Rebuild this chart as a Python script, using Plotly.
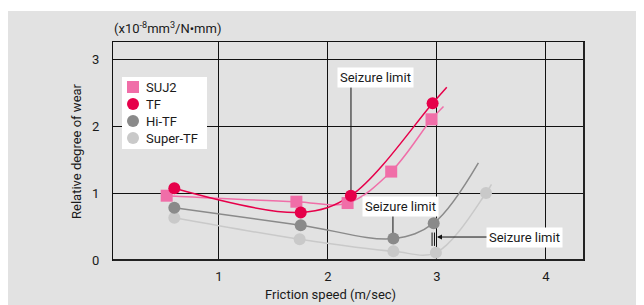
import plotly.graph_objects as go

# ---- data ----
suj2_x = [0.52, 1.71, 2.18, 2.58, 2.95]
suj2_y = [0.96, 0.87, 0.85, 1.32, 2.10]
suj2_tail_x = [3.06]
suj2_tail_y = [2.29]

tf_x = [0.59, 1.75, 2.21, 2.96]
tf_y = [1.07, 0.71, 0.96, 2.34]
tf_tail_x = [3.09]
tf_tail_y = [2.58]

hitf_x = [0.59, 1.75, 2.60, 2.97]
hitf_y = [0.78, 0.52, 0.32, 0.55]
hitf_tail_x = [3.38]
hitf_tail_y = [1.45]

stf_x = [0.59, 1.74, 2.60, 2.99, 3.45]
stf_y = [0.63, 0.31, 0.13, 0.11, 1.00]
stf_tail_x = [3.50]
stf_tail_y = [1.13]

series_names = ["SUJ2", "TF", "Hi-TF", "Super-TF"]
x_ticks = [1, 2, 3, 4]
y_ticks = [0, 1, 2, 3]

FONT = "Roboto, sans-serif"
BG = "#e2e2e2"
TXT = "#1a1a1a"

colors = ["#f06ea8", "#e6004a", "#8a8a8a", "#c9c9c9"]
symbols = ["square", "circle", "circle", "circle"]
data = [
    (suj2_x, suj2_y, suj2_tail_x, suj2_tail_y),
    (tf_x, tf_y, tf_tail_x, tf_tail_y),
    (hitf_x, hitf_y, hitf_tail_x, hitf_tail_y),
    (stf_x, stf_y, stf_tail_x, stf_tail_y),
]

# plot area geometry in px (figure coords)
W, H = 636, 297
L, R, T, B = 105, 60, 34, 45
PW, PH = W - L - R, H - T - B
XR = [0.0275, 4.349]
YR = [0, 3.254]


def px2x(px):
    return XR[0] + px * (XR[1] - XR[0]) / PW


def py2y(py):
    return YR[1] - py * (YR[1] - YR[0]) / PH


fig = go.Figure()
order = [3, 2, 0, 1]
for i in order:
    xs, ys, tx, ty = data[i]
    fig.add_trace(go.Scatter(
        x=xs + tx, y=ys + ty, mode="lines",
        line=dict(color=colors[i], width=1.5, shape="spline", smoothing=1.0),
        showlegend=False, hoverinfo="skip"))
for i in order:
    xs, ys, tx, ty = data[i]
    fig.add_trace(go.Scatter(
        x=xs, y=ys, mode="markers", name=series_names[i],
        marker=dict(color=colors[i], size=12, symbol=symbols[i], line=dict(width=0)),
        showlegend=False))

# custom legend on a pixel overlay axis (x right, y down, relative to plot area)
leg_sym_x = 20
leg_txt_x = 31
leg_rows = [45, 62, 79, 96]
fig.add_trace(go.Scatter(
    x=[leg_sym_x] * 4, y=leg_rows, xaxis="x2", yaxis="y2", mode="markers",
    marker=dict(color=colors, size=12, symbol=symbols, line=dict(width=0)),
    showlegend=False, hoverinfo="skip"))
for name, yy in zip(series_names, leg_rows):
    fig.add_annotation(x=leg_txt_x, y=yy, xref="x2", yref="y2", text=name,
                       showarrow=False, xanchor="left", yanchor="middle",
                       font=dict(size=13, color=TXT))

fig.update_layout(
    width=W, height=H,
    margin=dict(l=L, r=R, t=T, b=B),
    paper_bgcolor=BG, plot_bgcolor=BG,
    font=dict(family=FONT, size=13, color=TXT),
    showlegend=False,
    xaxis=dict(range=XR, tickvals=x_ticks, showgrid=True,
               gridcolor="#111111", gridwidth=1, zeroline=False,
               showline=True, linecolor="#111111", linewidth=1, mirror=True,
               ticks="", ticklabelstandoff=4, tickfont=dict(size=13)),
    yaxis=dict(range=YR, tickvals=y_ticks, showgrid=True,
               gridcolor="#111111", gridwidth=1, zeroline=False,
               showline=True, linecolor="#111111", linewidth=1, mirror=True,
               ticks="", ticklabelstandoff=10, tickfont=dict(size=13)),
    xaxis2=dict(overlaying="x", range=[0, PW], visible=False, fixedrange=True),
    yaxis2=dict(overlaying="y", range=[PH, 0], visible=False, fixedrange=True),
)

# white legend box (above gridlines, below traces)
fig.add_shape(type="rect", xref="x", yref="y",
              x0=px2x(9), x1=px2x(94), y0=py2y(107), y1=py2y(35),
              fillcolor="white", line=dict(width=0), layer="between")

# seizure limit leader lines
fig.add_shape(type="line", x0=2.211, x1=2.211, y0=0.96, y1=2.58,
              line=dict(color="#111111", width=1), layer="between")
fig.add_shape(type="line", x0=2.596, x1=2.596, y0=0.32, y1=0.657,
              line=dict(color="#111111", width=1), layer="between")
fig.add_shape(type="line", x0=2.955, x1=2.955, y0=0.21, y1=0.41,
              line=dict(color="#111111", width=1))
fig.add_shape(type="line", x0=2.977, x1=2.977, y0=0.21, y1=0.41,
              line=dict(color="#111111", width=1))

# white strip at very top
fig.add_shape(type="rect", xref="paper", yref="paper",
              x0=-0.3, x1=1.2, y0=(PH + T - 3) / PH, y1=1.5,
              fillcolor="white", line=dict(width=0))
# thicker right and bottom border
fig.add_shape(type="line", xref="paper", yref="paper", x0=1, x1=1, y0=0, y1=1,
              line=dict(color="#222222", width=2))
fig.add_shape(type="line", xref="paper", yref="paper", x0=0, x1=1, y0=0, y1=0,
              line=dict(color="#222222", width=2))

box = dict(bgcolor="white", borderpad=2, font=dict(size=13, color=TXT))
fig.add_annotation(x=2.436, y=2.72, text="Seizure limit", showarrow=False, **box)
fig.add_annotation(x=2.665, y=0.80, text="Seizure limit", showarrow=False, **box)
fig.add_annotation(x=3.0, y=0.343, ax=3.803, ay=0.343, axref="x", ayref="y",
                   text="Seizure limit", showarrow=True, arrowhead=2,
                   arrowsize=1, arrowwidth=1, arrowcolor="#111111", **box)

# axis titles and unit text
fig.add_annotation(x=2.02, y=-34 / PH, xref="x", yref="paper",
                   text="Friction speed (m/sec)", showarrow=False,
                   xanchor="center", yanchor="middle", font=dict(size=13))
fig.add_annotation(x=(68 - L) / PW, y=0.5, xref="paper", yref="paper",
                   text="Relative degree of wear", showarrow=False,
                   xanchor="center", yanchor="middle",
                   textangle=-90, font=dict(size=13))
fig.add_annotation(x=-0.002, y=(PH + T - 20) / PH, xref="paper", yref="paper",
                   xanchor="left", yanchor="middle",
                   text="(x10<sup>-8</sup>mm<sup>3</sup>/N•mm)", showarrow=False,
                   font=dict(size=13))

fig.write_html("out.html")
